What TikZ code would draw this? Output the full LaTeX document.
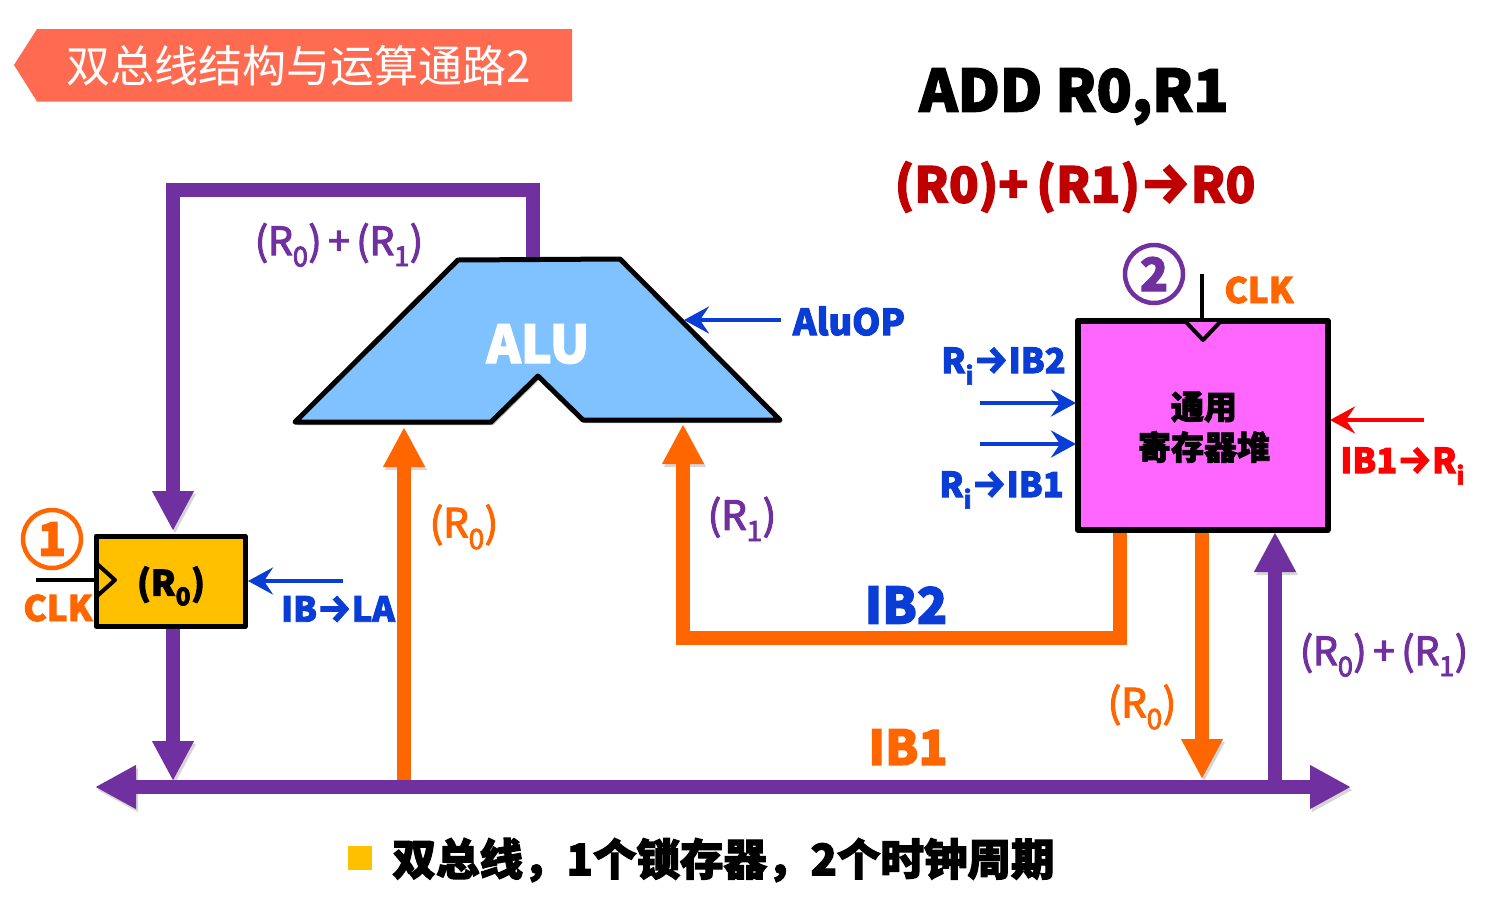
\documentclass[tikz,border=0pt]{standalone}
\usepackage{fontspec}
\setmainfont{Noto Sans CJK SC}[BoldFeatures={FakeBold=2.6}]
\newfontfamily\medf{Noto Sans CJK SC}[FakeBold=3]
\newfontfamily\arrf{Fira Sans}[FakeBold=2,Scale=1.12]
\newfontfamily\arrb{Fira Sans}[FakeBold=2.4,Scale=1.15]
\newcommand{\fs}[1]{\fontsize{#1}{#1}\selectfont}
\newcommand{\ssb}[1]{\textsubscript{#1}}
\newcommand{\ar}{{\arrf →}}
\newcommand{\arB}{{\arrb →}}
\usetikzlibrary{arrows.meta,shadows,calc}
\definecolor{cpurple}{HTML}{7030A0}
\definecolor{corange}{HTML}{FF6600}
\definecolor{cblue}{HTML}{0A3CD6}
\definecolor{cyellow}{HTML}{FFC000}
\definecolor{cmagenta}{HTML}{FF66FF}
\definecolor{calu}{HTML}{80C2FF}
\definecolor{ctitle}{HTML}{FF6B50}
\definecolor{cdred}{HTML}{C00000}
\definecolor{cred}{HTML}{FF0000}
\tikzset{
  softsh/.style={drop shadow={shadow xshift=2pt,shadow yshift=-3pt,opacity=.3,fill=black}},
  linesh/.style={preaction={draw=black,draw opacity=.16,fill opacity=.16,transform canvas={shift={(2pt,-3pt)}}}},
  busline/.style={line width=13.5pt,draw=#1,linesh,-{Triangle[length=40pt,width=39pt]}},
  thin arrow/.style={line width=4.5pt,draw=#1,-{Stealth[length=25pt,width=27pt,inset=9pt]}},
  boxreg/.style={draw=black,line width=5pt,line join=round,softsh,inner sep=0pt},
  lab/.style={inner sep=0pt,text=#1},
  circ/.style={circle,draw=#1,line width=4.5pt,text=#1,inner sep=0pt,minimum size=58pt,font=\fs{46}\bfseries},
  clktri/.style={draw=black,line width=4pt,line join=round},
}
\begin{document}
\begin{tikzpicture}[x=1pt,y=-1pt]
\useasboundingbox (0,0) rectangle (1501,911);
% title
\fill[ctitle] (14,65) -- (37,29) -- (572,29) -- (572,101.5) -- (37,101.5) -- cycle;
\node[lab=white,font=\fs{44}] (title) at (298.5,66) {双总线结构与运算通路2};
\node[lab=black,font=\fs{58}\bfseries] (instr) at (1074,96.5) {ADD R0,R1};
\node[lab=cdred,font=\fs{49}\bfseries] (rtl) at (1075,187) {(R0)+\,(R1)\arB R0};

% coordinates
\coordinate (fbA) at (533,262);
\coordinate (fbB) at (533,190);
\coordinate (fbC) at (173,190);
\coordinate (fbD) at (173,531);
\coordinate (laOut) at (173,626);
\coordinate (laBus) at (173,781);
\coordinate (busL) at (95,787);
\coordinate (busR) at (1351,787);
\coordinate (r0From) at (404,781);
\coordinate (r0To) at (404,427);
\coordinate (r1A) at (1120,530);
\coordinate (r1B) at (1120,638);
\coordinate (r1C) at (683,638);
\coordinate (r1D) at (683,424);
\coordinate (rfOut) at (1202,530);
\coordinate (rfBus) at (1202,779);
\coordinate (busUp) at (1275,781);
\coordinate (rfIn) at (1275,532);

% wide buses
\draw[busline=cpurple] (fbA) -- (fbB) -- (fbC) -- (fbD);
\draw[busline=cpurple] (laOut) -- (laBus);
\draw[busline=corange] (r0From) -- (r0To);
\draw[busline=corange,line join=miter] (r1A) -- (r1B) -- (r1C) -- (r1D);
\draw[busline=corange] (rfOut) -- (rfBus);
\draw[busline=cpurple] (busUp) -- (rfIn);
\draw[line width=14pt,draw=cpurple,linesh,{Triangle[length=41pt,width=41pt]}-{Triangle[length=41pt,width=41pt]}] (busL) -- (busR);

% ALU
\draw[fill=calu,draw=black,line width=5pt,line join=round,softsh] (295,422) -- (458,260) -- (620,259) -- (780,420) -- (583,420) -- (538,376) -- (491,422) -- cycle;
\node[lab=white,font=\fs{52}\bfseries] (alu) at (538,344) {ALU};
\coordinate (aluSide) at (684,320);
\coordinate (aluopFrom) at (781,320);
\draw[thin arrow=cblue] (aluopFrom) -- (aluSide);
\node[lab=cblue,font=\fs{36}\bfseries] (aluop) at (849,321) {AluOP};

% register R0
\node[boxreg,fill=cyellow,minimum width=149pt,minimum height=90pt] (rzero) at (170.5,581) {};
\node[lab=black,font=\fs{35}\bfseries] (rzerot) at (171,586) {(R\ssb{0})};
\coordinate (clkA) at (36,580);
\coordinate (clkB) at (96,580);
\draw[line width=4pt] (clkA) -- (clkB);
\draw[clktri] (96,563) -- (115,580) -- (96,597);
\node[circ=corange] (one) at (52,539) {1};
\node[lab=corange,font=\fs{35}\bfseries] (clkl) at (58,608) {CLK};
\coordinate (laFrom) at (343,581);
\coordinate (laTo) at (248,581);
\draw[thin arrow=cblue] (laFrom) -- (laTo);
\node[lab=cblue,font=\fs{34.5}\bfseries] (ibla) at (338,609) {IB\ar LA};

% register file
\node[boxreg,line width=6pt,fill=cmagenta,minimum width=250pt,minimum height=209pt] (rf) at (1202.5,425) {};
\node[lab=black,font=\fs{33}\bfseries,align=center] (rft) at (1204,407) {通用};
\node[lab=black,font=\fs{33}\bfseries,align=center] (rfb) at (1204,447) {寄存器堆};
\coordinate (clk2A) at (1202,274);
\coordinate (clk2B) at (1202,320);
\draw[line width=4pt] (clk2A) -- (clk2B);
\draw[clktri,fill=cmagenta] (1186,322) -- (1203,340) -- (1220,322);
\node[circ=cpurple] (two) at (1154,274) {2};
\node[lab=corange,font=\fs{35}\bfseries] (clk2) at (1259,290) {CLK};
\coordinate (a1) at (980,403);
\coordinate (a1e) at (1076,403);
\coordinate (a2) at (980,444);
\coordinate (a2e) at (1076,444);
\draw[thin arrow=cblue] (a1) -- (a1e);
\draw[thin arrow=cblue] (a2) -- (a2e);
\node[lab=cblue,font=\fs{34.5}\bfseries] (ri2) at (1003.5,366) {R\ssb{i}\ar IB2};
\node[lab=cblue,font=\fs{34.5}\bfseries] (ri1) at (1001.5,490) {R\ssb{i}\ar IB1};
\coordinate (rr) at (1424,420);
\coordinate (rre) at (1330,420);
\draw[thin arrow=cred] (rr) -- (rre);
\node[lab=cred,font=\fs{34.5}\bfseries] (ib1r) at (1402.5,466) {IB1\ar R\ssb{i}};

% labels
\node[lab=cpurple,font=\fs{39}\medf] (s1) at (339,245) {(R\ssb{0})\,+\,(R\ssb{1})};
\node[lab=corange,font=\fs{40}\medf] (l1) at (464,527) {(R\ssb{0})};
\node[lab=cpurple,font=\fs{40}\medf] (l2) at (742,519) {(R\ssb{1})};
\node[lab=cblue,font=\fs{50}\bfseries] (ib2) at (906,605) {IB2};
\node[lab=corange,font=\fs{48}\bfseries] (ib1) at (908,747) {IB1};
\node[lab=corange,font=\fs{40}\medf] (l3) at (1142,707) {(R\ssb{0})};
\node[lab=cpurple,font=\fs{39}\medf] (s2) at (1384,655) {(R\ssb{0})\,+\,(R\ssb{1})};

% footnote
\fill[cyellow] (348,846) rectangle (372,870);
\node[lab=black,font=\fs{43.5}\bfseries] (foot) at (723.5,860) {双总线，1个锁存器，2个时钟周期};
\end{tikzpicture}
\end{document}
